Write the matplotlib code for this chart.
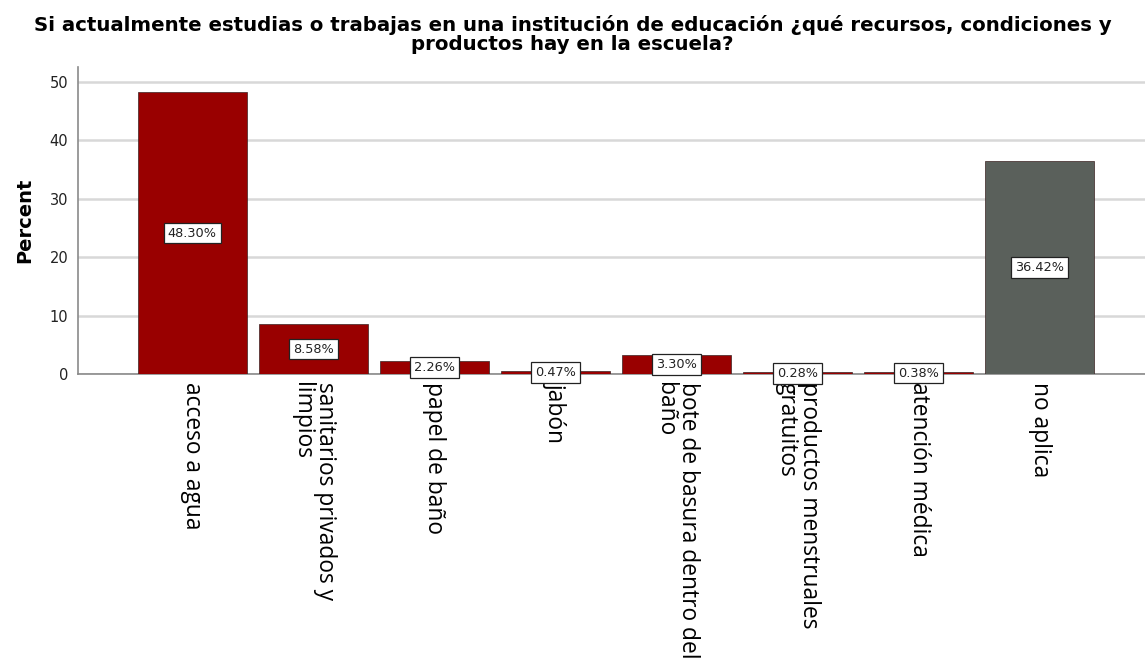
import matplotlib.pyplot as plt

# datos del gráfico
categorias = ['acceso a agua', 'sanitarios privados y\nlimpios', 'papel de baño', 'jabón',
              'bote de basura dentro del\nbaño', 'productos menstruales\ngratuitos',
              'atención médica', 'no aplica']
porcentajes = [48.30, 8.58, 2.26, 0.47, 3.30, 0.28, 0.38, 36.42]
colores = ['#990000'] * 7 + ['#5a605b']

fig = plt.figure(figsize=(11.45, 6.61), dpi=100)
ax = fig.add_axes([0.068, 0.434, 0.932, 0.465])

x = list(range(len(categorias)))
ax.bar(x, porcentajes, width=0.9, color=colores, edgecolor='#3a2222', linewidth=0.5, zorder=3)

# etiquetas de valor dentro de cajas blancas
for xi, v in zip(x, porcentajes):
    ax.text(xi, v / 2, f'{v:.2f}%', ha='center', va='center', fontsize=9.3,
            family='DejaVu Sans', color='#222222', zorder=5,
            bbox=dict(boxstyle='square,pad=0.3', facecolor='white', edgecolor='#222222', linewidth=0.9))

ax.set_xlim(-0.946, 7.87)
ax.set_ylim(0, 52.6)
ax.set_yticks([0, 10, 20, 30, 40, 50])
ax.yaxis.grid(True, color='#d8d8d8', linewidth=1.8, zorder=0)
ax.set_axisbelow(True)

ax.set_xticks(x)
ax.set_xticklabels(categorias, rotation=-90, ha='center', va='top', fontsize=16.4,
                   family='Open Sans', linespacing=0.9, multialignment='left')
ax.tick_params(axis='x', length=0, pad=6)
ax.tick_params(axis='y', length=0, labelsize=10.5, pad=7, labelcolor='#222222')

for s in ['top', 'right']:
    ax.spines[s].set_visible(False)
ax.spines['left'].set_color('#8a8a8a')
ax.spines['bottom'].set_color('#8a8a8a')
ax.spines['left'].set_linewidth(1.2)
ax.spines['bottom'].set_linewidth(1.2)

ax.set_ylabel('Percent', fontsize=14, fontweight='bold', labelpad=11)

fig.text(0.5, 1 - 15 / 661,
         'Si actualmente estudias o trabajas en una institución de educación ¿qué recursos, condiciones y\n'
         'productos hay en la escuela?', ha='center', va='top', fontsize=14.2, fontweight='bold',
         linespacing=1.0)

fig.savefig('out.png', dpi=100)
